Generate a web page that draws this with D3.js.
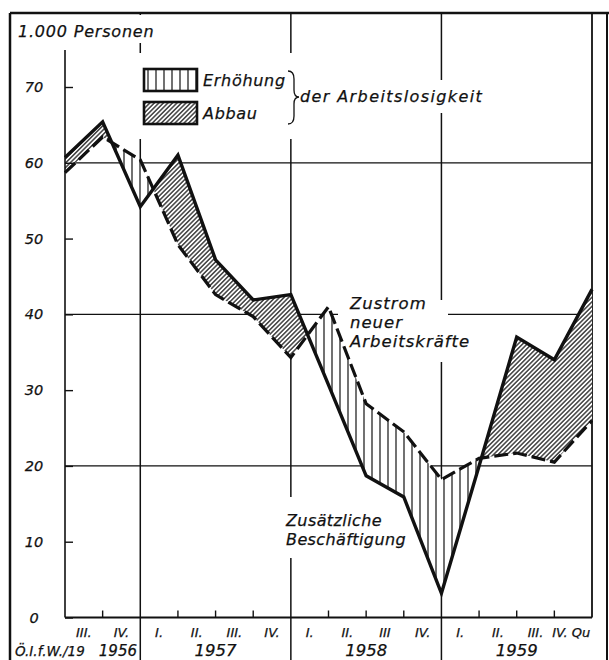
<!DOCTYPE html>
<html>
<head>
<meta charset="utf-8">
<script src="https://cdn.jsdelivr.net/npm/d3@7/dist/d3.min.js"></script>
<style>
  body { margin: 0; background: #fff; }
  text { font-family: "DejaVu Sans", sans-serif; font-style: italic; fill: #111; stroke: #111; stroke-width: 0.25; }
</style>
</head>
<body>
<script>
// quarter boundaries (end of quarter), one point each
const periods = ["II/56", "III/56", "IV/56", "I/57", "II/57", "III/57", "IV/57",
  "I/58", "II/58", "III/58", "IV/58", "I/59", "II/59", "III/59", "IV/59"];
// Zusaetzliche Beschaeftigung (solid), 1000 persons
const employment = [60.7, 65.4, 54.2, 61.0, 47.2, 41.9, 42.6, 30.7, 18.7, 15.9, 3.2, 20.0, 37.0, 34.0, 43.3];
// Zustrom neuer Arbeitskraefte (dashed), 1000 persons
const inflow = [58.7, 63.4, 60.4, 49.2, 42.6, 39.7, 34.3, 41.0, 28.2, 24.5, 18.2, 21.0, 21.7, 20.5, 26.0];

const quarterLabels = ["III.", "IV.", "I.", "II.", "III.", "IV.", "I.", "II.", "III", "IV.", "I.", "II.", "III.", "IV. Qu"];
const years = ["1956", "1957", "1958", "1959"];
const yearQuarters = [2, 4, 4, 4];
const yTicks = [0, 10, 20, 30, 40, 50, 60, 70];
const gridValues = [20, 40, 60];

const W = 609, H = 660;
const svg = d3.select("body").append("svg").attr("width", W).attr("height", H);

const x = d3.scalePoint().domain(periods).range([65, 592]);
const y = d3.scaleLinear().domain([0, 70]).range([617.5, 87]);
const xi = i => x(periods[i]);

// patterns
const defs = svg.append("defs");
defs.append("pattern").attr("id", "vert").attr("patternUnits", "userSpaceOnUse")
  .attr("width", 8).attr("height", 10)
  .append("line").attr("x1", 4).attr("x2", 4).attr("y1", 0).attr("y2", 10)
  .attr("stroke", "#111").attr("stroke-width", 1.2);
defs.append("pattern").attr("id", "diag").attr("patternUnits", "userSpaceOnUse")
  .attr("width", 3.2).attr("height", 10).attr("patternTransform", "rotate(45)")
  .append("line").attr("x1", 1.6).attr("x2", 1.6).attr("y1", 0).attr("y2", 10)
  .attr("stroke", "#111").attr("stroke-width", 1.2);

const frameTop = 13, plotLeft = x.range()[0], plotRight = x.range()[1], base = y(0);

// gridlines
svg.append("g").selectAll("line").data(gridValues).join("line")
  .attr("x1", plotLeft).attr("x2", plotRight)
  .attr("y1", d => y(d)).attr("y2", d => y(d))
  .attr("stroke", "#111").attr("stroke-width", 1.2);

// year separators (full height through label rows)
let acc = 0;
const sepIdx = [];
yearQuarters.forEach((n, k) => { acc += n; if (k < years.length - 1) sepIdx.push(acc); });
svg.append("g").selectAll("line").data(sepIdx).join("line")
  .attr("x1", d => xi(d)).attr("x2", d => xi(d))
  .attr("y1", frameTop).attr("y2", H)
  .attr("stroke", "#111").attr("stroke-width", 1.5);

// plot right border
svg.append("line").attr("x1", plotRight).attr("x2", plotRight).attr("y1", frameTop).attr("y2", base)
  .attr("stroke", "#111").attr("stroke-width", 1.8);

// outer frame
svg.append("line").attr("x1", 10).attr("x2", W).attr("y1", frameTop).attr("y2", frameTop)
  .attr("stroke", "#111").attr("stroke-width", 2.5);
svg.append("line").attr("x1", 10).attr("x2", 10).attr("y1", frameTop).attr("y2", H)
  .attr("stroke", "#111").attr("stroke-width", 2.5);
svg.append("line").attr("x1", 607).attr("x2", 607).attr("y1", frameTop).attr("y2", H)
  .attr("stroke", "#111").attr("stroke-width", 2);

// white knockouts behind annotation text
const knock = [[14, 15, 148, 28], [138, 53, 165, 86], [296, 80, 190, 33],
  [338, 288, 102, 74], [440, 300, 8, 62], [282, 497, 128, 61]];
svg.append("g").selectAll("rect").data(knock).join("rect")
  .attr("x", d => d[0]).attr("y", d => d[1]).attr("width", d => d[2]).attr("height", d => d[3])
  .attr("fill", "#fff");

// band between both lines, split by which one is higher
const idx = d3.range(periods.length);
const band = d3.area().x(i => xi(i)).y0(i => y(inflow[i])).y1(i => y(employment[i]));
defs.append("clipPath").attr("id", "aboveS").append("path")
  .attr("d", d3.area().x(i => xi(i)).y0(0).y1(i => y(employment[i]))(idx));
defs.append("clipPath").attr("id", "belowS").append("path")
  .attr("d", d3.area().x(i => xi(i)).y0(H).y1(i => y(employment[i]))(idx));

svg.append("path").attr("d", band(idx)).attr("fill", "#fff");
svg.append("path").attr("d", band(idx)).attr("fill", "url(#vert)").attr("clip-path", "url(#aboveS)");
svg.append("path").attr("d", band(idx)).attr("fill", "url(#diag)").attr("clip-path", "url(#belowS)");

// lines
const lineS = d3.line().x(i => xi(i)).y(i => y(employment[i]));
const lineD = d3.line().x(i => xi(i)).y(i => y(inflow[i]));
svg.append("path").attr("d", lineD(idx)).attr("fill", "none").attr("stroke", "#111")
  .attr("stroke-width", 3.2).attr("stroke-dasharray", "14,5").attr("stroke-linejoin", "miter");
svg.append("path").attr("d", lineS(idx)).attr("fill", "none").attr("stroke", "#111")
  .attr("stroke-width", 3.4).attr("stroke-linejoin", "miter");

// y axis
svg.append("line").attr("x1", plotLeft).attr("x2", plotLeft).attr("y1", 50).attr("y2", base)
  .attr("stroke", "#111").attr("stroke-width", 1.6);
const yAxis = d3.axisRight(y).tickValues(yTicks).tickSize(8).tickFormat("");
svg.append("g").attr("transform", `translate(${plotLeft},0)`).call(yAxis)
  .call(g => g.select(".domain").remove())
  .call(g => g.selectAll(".tick line").attr("stroke", "#111").attr("stroke-width", 1.4));
svg.append("g").selectAll("text").data(yTicks).join("text")
  .attr("x", 34).attr("y", d => y(d) + 5).attr("text-anchor", "middle")
  .attr("font-size", 14.5).text(d => d);

// x axis
svg.append("line").attr("x1", plotLeft).attr("x2", plotRight).attr("y1", base).attr("y2", base)
  .attr("stroke", "#111").attr("stroke-width", 1.8);
const innerTicks = idx.filter(i => i > 0 && i < periods.length - 1 && !sepIdx.includes(i));
svg.append("g").selectAll("line").data(innerTicks).join("line")
  .attr("x1", i => xi(i)).attr("x2", i => xi(i)).attr("y1", base).attr("y2", base - 7)
  .attr("stroke", "#111").attr("stroke-width", 1.4);
svg.append("g").selectAll("text").data(quarterLabels).join("text")
  .attr("x", (d, i) => (xi(i) + xi(i + 1)) / 2 + (i === quarterLabels.length - 1 ? -2 : 0))
  .attr("y", 637).attr("text-anchor", "middle").attr("font-size", 13).text(d => d);

let start = 0;
const yearPos = yearQuarters.map(n => { const p = [start, start + n]; start += n; return p; });
svg.append("g").selectAll("text").data(years).join("text")
  .attr("x", (d, k) => k === 0 ? 137 : (xi(yearPos[k][0]) + xi(yearPos[k][1])) / 2)
  .attr("y", 656).attr("text-anchor", (d, k) => k === 0 ? "end" : "middle")
  .attr("font-size", (d, k) => k === 0 ? 15 : 16.5).text(d => d);
svg.append("text").attr("x", 15).attr("y", 656).attr("font-size", 13.5)
  .text("Ö.I.f.W./19");

// unit title
svg.append("text").attr("x", 18).attr("y", 37).attr("font-size", 16).attr("letter-spacing", 0.8)
  .text("1.000 Personen");

// legend
const legend = [{ label: "Erhöhung", fill: "url(#vert)" }, { label: "Abbau", fill: "url(#diag)" }];
const lg = svg.append("g").selectAll("g").data(legend).join("g")
  .attr("transform", (d, i) => `translate(144,${69 + i * 33})`);
lg.append("rect").attr("width", 53).attr("height", 22).attr("fill", "#fff");
lg.append("rect").attr("width", 53).attr("height", 22).attr("fill", d => d.fill)
  .attr("stroke", "#111").attr("stroke-width", 2.6);
lg.append("text").attr("x", 59).attr("y", 17).attr("font-size", 16).attr("letter-spacing", 0.7)
  .text(d => d.label);
svg.append("path")
  .attr("d", "M288,71 Q294,71 294,79 L294,90 Q294,97 299,97 Q294,97 294,104 L294,116 Q294,124 288,124")
  .attr("fill", "none").attr("stroke", "#111").attr("stroke-width", 1.3);
svg.append("text").attr("x", 300).attr("y", 102).attr("font-size", 16).attr("letter-spacing", 1.4)
  .text("der Arbeitslosigkeit");

// annotations
const noteIn = ["Zustrom", "neuer", "Arbeitskräfte"];
svg.append("g").selectAll("text").data(noteIn).join("text")
  .attr("x", 350).attr("y", (d, i) => 309 + i * 19).attr("font-size", 16.5).attr("letter-spacing", 1)
  .text(d => d);
const noteEmp = ["Zusätzliche", "Beschäftigung"];
svg.append("g").selectAll("text").data(noteEmp).join("text")
  .attr("x", 286).attr("y", (d, i) => 526 + i * 19).attr("font-size", 16).attr("letter-spacing", 0.4)
  .text(d => d);
</script>
</body>
</html>
